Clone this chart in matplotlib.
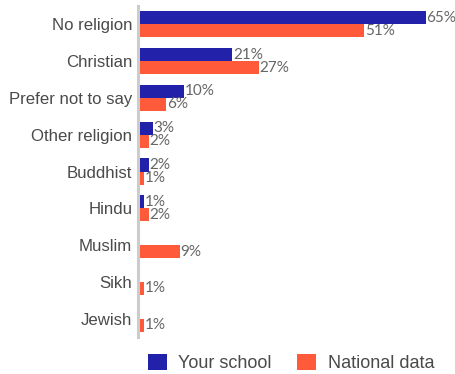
import matplotlib
matplotlib.use("Agg")
import matplotlib.pyplot as plt
from matplotlib.patches import Patch
import numpy as np

categories = ["No religion", "Christian", "Prefer not to say", "Other religion",
              "Buddhist", "Hindu", "Muslim", "Sikh", "Jewish"]
your_school = [65, 21, 10, 3, 2, 1, 0, 0, 0]
national_data = [51, 27, 6, 2, 1, 2, 9, 1, 1]

BLUE = "#2121a9"
ORANGE = "#ff5b3a"
TEXT = "#4a4a4a"
VALUE = "#666666"

W, H = 456, 374
fig = plt.figure(figsize=(W / 100, H / 100), dpi=100)
left, right, top, bottom = 140, 450, 6, 337
ax = fig.add_axes([left / W, 1 - bottom / H, (right - left) / W, (bottom - top) / H])

y = np.arange(len(categories))
bh = 0.355
b1 = ax.barh(y - bh / 2, your_school, height=bh, color=BLUE, zorder=3)
b2 = ax.barh(y + bh / 2, national_data, height=bh, color=ORANGE, zorder=3)

for bars, vals in ((b1, your_school), (b2, national_data)):
    for rect, v in zip(bars, vals):
        if v == 0:
            continue
        ax.annotate(f"{v}%", (v, rect.get_y() + rect.get_height() / 2),
                    xytext=(0.4, 0), textcoords="offset points",
                    ha="left", va="center", fontsize=11, color=VALUE,
                    family="Lato")

ax.set_xlim(0, (right - left) / 4.4)
ax.set_ylim(len(categories) - 0.5, -0.5)
ax.set_yticks(y, categories)
ax.tick_params(axis="y", length=0, pad=4, labelcolor=TEXT, labelsize=12.1,
               labelfontfamily="Liberation Sans")
ax.set_xticks([])
for s in ("top", "right", "bottom"):
    ax.spines[s].set_visible(False)
ax.spines["left"].set_color("#cccccc")
ax.spines["left"].set_linewidth(2.2)
ax.spines["left"].set_position(("outward", 1.5))

handles = [Patch(facecolor=BLUE, label="Your school"),
           Patch(facecolor=ORANGE, label="National data")]
fig.legend(handles=handles, loc="center", bbox_to_anchor=(291 / W, 1 - 363 / H),
           ncol=2, frameon=False, handlelength=1.05, handleheight=1.05,
           handletextpad=0.65, columnspacing=1.4,
           prop={"family": "Liberation Sans", "size": 13}, labelcolor=TEXT)

fig.savefig("out.png", dpi=100)
